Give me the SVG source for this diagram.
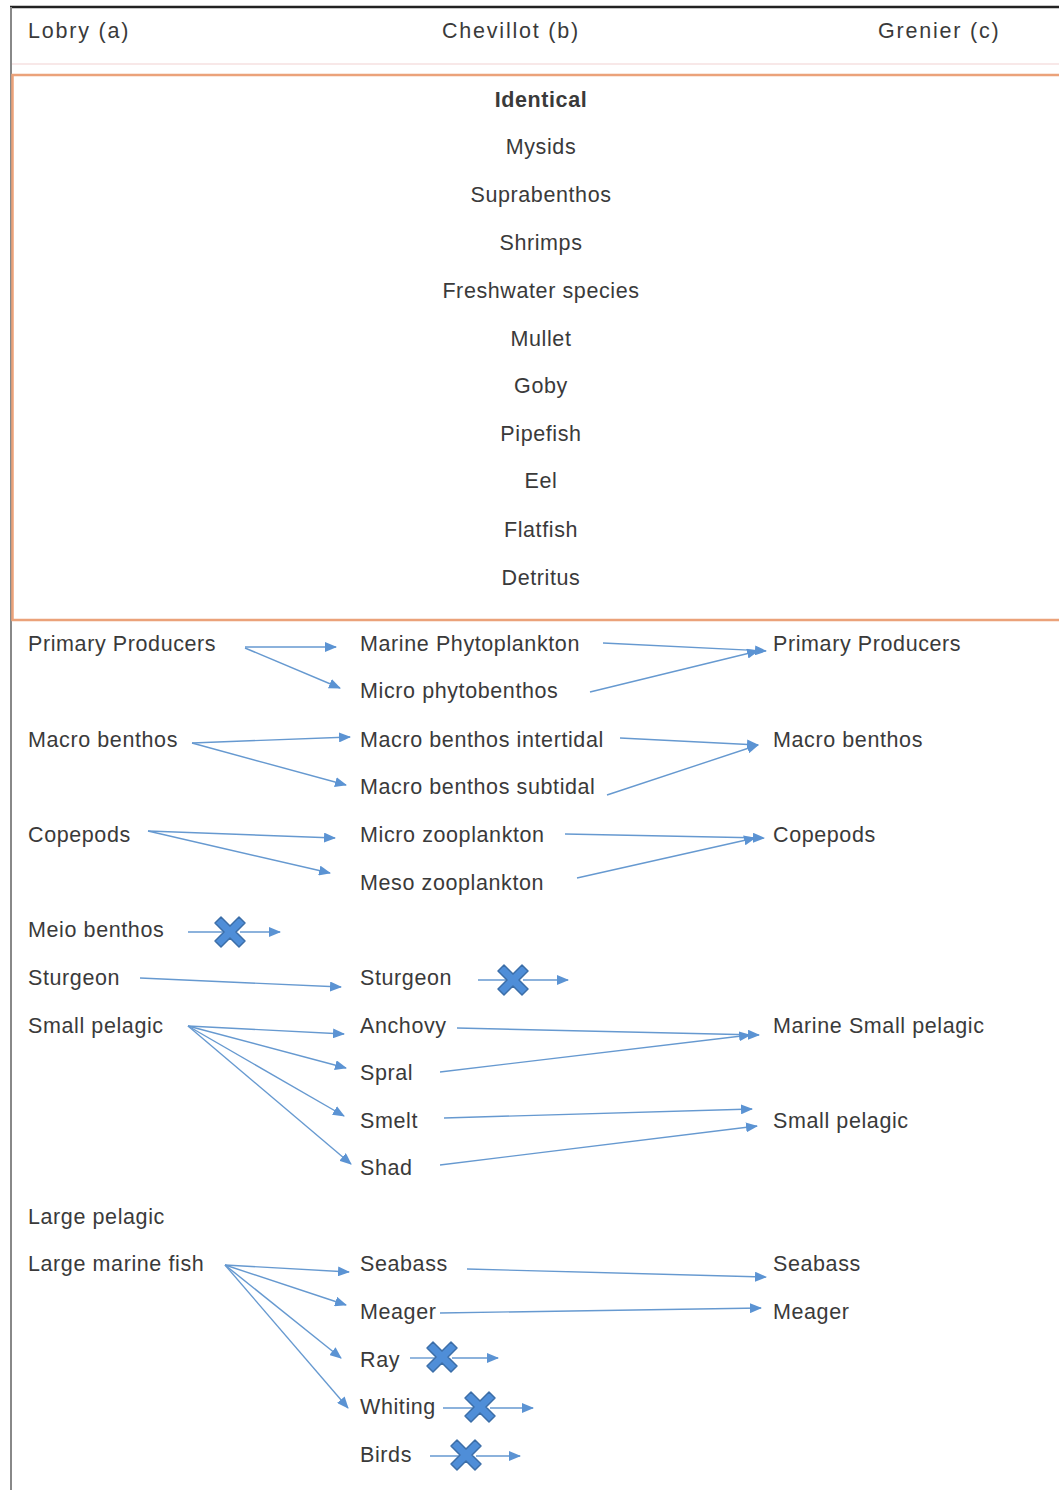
<svg xmlns="http://www.w3.org/2000/svg" width="1059" height="1490" viewBox="0 0 1059 1490">
<defs>
<style>
text{font-family:"Liberation Sans",Arial,sans-serif;font-size:21.5px;fill:#3a3a3a;letter-spacing:0.6px;dominant-baseline:central}
.h{letter-spacing:1.8px}
.c{text-anchor:middle}
.b{font-weight:bold}
.ln{stroke:#6699d0;stroke-width:1.4;fill:none}
.ar{marker-end:url(#ah)}
.x{fill:#4f8ed8;stroke:#3c6ea8;stroke-width:1.5}
</style>
<marker id="ah" markerUnits="userSpaceOnUse" markerWidth="12" markerHeight="10" refX="11" refY="5" orient="auto">
<path d="M0,0 L12,5 L0,10 Z" fill="#5b93d3"/>
</marker>
<path id="cross" d="M-9,-15 L0,-6 L9,-15 L15,-9 L6,0 L15,9 L9,15 L0,6 L-9,15 L-15,9 L-6,0 L-15,-9 Z" stroke-linejoin="round"/>
</defs>
<rect width="1059" height="1490" fill="#ffffff"/>
<g id="frame">
<line x1="10" y1="7" x2="1059" y2="7" stroke="#222" stroke-width="2.5"/>
<line x1="11" y1="7" x2="11" y2="1490" stroke="#888" stroke-width="2"/>
<line x1="12" y1="64" x2="1059" y2="64" stroke="#f6e0e0" stroke-width="1.5"/>
<rect x="12.5" y="75" width="1060" height="545" fill="none" stroke="#eba27a" stroke-width="2.5"/>
</g>
<g id="header">
<text x="28" y="31" class="h">Lobry (a)</text>
<text x="511" y="31" class="c h">Chevillot (b)</text>
<text x="878" y="31" class="h">Grenier (c)</text>
</g>
<g id="identical">
<text x="541" y="100" class="c b">Identical</text>
<text x="541" y="147" class="c">Mysids</text>
<text x="541" y="195" class="c">Suprabenthos</text>
<text x="541" y="243" class="c">Shrimps</text>
<text x="541" y="291" class="c">Freshwater species</text>
<text x="541" y="339" class="c">Mullet</text>
<text x="541" y="386" class="c">Goby</text>
<text x="541" y="434" class="c">Pipefish</text>
<text x="541" y="481" class="c">Eel</text>
<text x="541" y="530" class="c">Flatfish</text>
<text x="541" y="578" class="c">Detritus</text>
</g>
<g id="connectors">
<line class="ln ar" x1="245" y1="647" x2="336" y2="647"/>
<line class="ln ar" x1="245" y1="648" x2="340" y2="688"/>
<line class="ln ar" x1="603" y1="643" x2="766" y2="651"/>
<line class="ln ar" x1="590" y1="692" x2="758" y2="651"/>
<line class="ln ar" x1="192" y1="743" x2="350" y2="737"/>
<line class="ln ar" x1="192" y1="743" x2="346" y2="785"/>
<line class="ln ar" x1="620" y1="738" x2="758" y2="745"/>
<line class="ln ar" x1="607" y1="795" x2="758" y2="745"/>
<line class="ln ar" x1="148" y1="831" x2="335" y2="838"/>
<line class="ln ar" x1="148" y1="831" x2="330" y2="873"/>
<line class="ln ar" x1="565" y1="834" x2="764" y2="838"/>
<line class="ln ar" x1="577" y1="878" x2="755" y2="838"/>
<line class="ln" x1="188" y1="932" x2="230" y2="932"/>
<line class="ln ar" x1="240" y1="932" x2="280" y2="932"/>
<line class="ln ar" x1="140" y1="978" x2="341" y2="987"/>
<line class="ln" x1="478" y1="980" x2="513" y2="980"/>
<line class="ln ar" x1="523" y1="980" x2="568" y2="980"/>
<line class="ln ar" x1="188" y1="1026" x2="344" y2="1034"/>
<line class="ln ar" x1="188" y1="1026" x2="346" y2="1068"/>
<line class="ln ar" x1="188" y1="1026" x2="344" y2="1116"/>
<line class="ln ar" x1="188" y1="1026" x2="351" y2="1164"/>
<line class="ln ar" x1="457" y1="1028" x2="759" y2="1035"/>
<line class="ln ar" x1="440" y1="1072" x2="750" y2="1035"/>
<line class="ln ar" x1="444" y1="1118" x2="752" y2="1109"/>
<line class="ln ar" x1="440" y1="1165" x2="757" y2="1126"/>
<line class="ln ar" x1="225" y1="1265" x2="349" y2="1272"/>
<line class="ln ar" x1="225" y1="1265" x2="346" y2="1305"/>
<line class="ln ar" x1="225" y1="1265" x2="341" y2="1358"/>
<line class="ln ar" x1="225" y1="1265" x2="348" y2="1408"/>
<line class="ln ar" x1="467" y1="1269" x2="766" y2="1277"/>
<line class="ln ar" x1="440" y1="1313" x2="761" y2="1308"/>
<line class="ln" x1="410" y1="1358" x2="442" y2="1358"/>
<line class="ln ar" x1="452" y1="1358" x2="498" y2="1358"/>
<line class="ln" x1="443" y1="1408" x2="480" y2="1408"/>
<line class="ln ar" x1="490" y1="1408" x2="533" y2="1408"/>
<line class="ln" x1="430" y1="1456" x2="466" y2="1456"/>
<line class="ln ar" x1="476" y1="1456" x2="520" y2="1456"/>
</g>
<g id="crosses">
<use href="#cross" class="x" x="230" y="932"/>
<use href="#cross" class="x" x="513" y="980"/>
<use href="#cross" class="x" x="442" y="1357"/>
<use href="#cross" class="x" x="480" y="1407"/>
<use href="#cross" class="x" x="466" y="1455"/>
</g>
<g id="col-a">
<text x="28" y="644">Primary Producers</text>
<text x="28" y="740">Macro benthos</text>
<text x="28" y="835">Copepods</text>
<text x="28" y="930">Meio benthos</text>
<text x="28" y="978">Sturgeon</text>
<text x="28" y="1026">Small pelagic</text>
<text x="28" y="1217">Large pelagic</text>
<text x="28" y="1264">Large marine fish</text>
</g>
<g id="col-b">
<text x="360" y="644">Marine Phytoplankton</text>
<text x="360" y="691">Micro phytobenthos</text>
<text x="360" y="740">Macro benthos intertidal</text>
<text x="360" y="787">Macro benthos subtidal</text>
<text x="360" y="835">Micro zooplankton</text>
<text x="360" y="883">Meso zooplankton</text>
<text x="360" y="978">Sturgeon</text>
<text x="360" y="1026">Anchovy</text>
<text x="360" y="1073">Spral</text>
<text x="360" y="1121">Smelt</text>
<text x="360" y="1168">Shad</text>
<text x="360" y="1264">Seabass</text>
<text x="360" y="1312">Meager</text>
<text x="360" y="1360">Ray</text>
<text x="360" y="1407">Whiting</text>
<text x="360" y="1455">Birds</text>
</g>
<g id="col-c">
<text x="773" y="644">Primary Producers</text>
<text x="773" y="740">Macro benthos</text>
<text x="773" y="835">Copepods</text>
<text x="773" y="1026">Marine Small pelagic</text>
<text x="773" y="1121">Small pelagic</text>
<text x="773" y="1264">Seabass</text>
<text x="773" y="1312">Meager</text>
</g>
</svg>
